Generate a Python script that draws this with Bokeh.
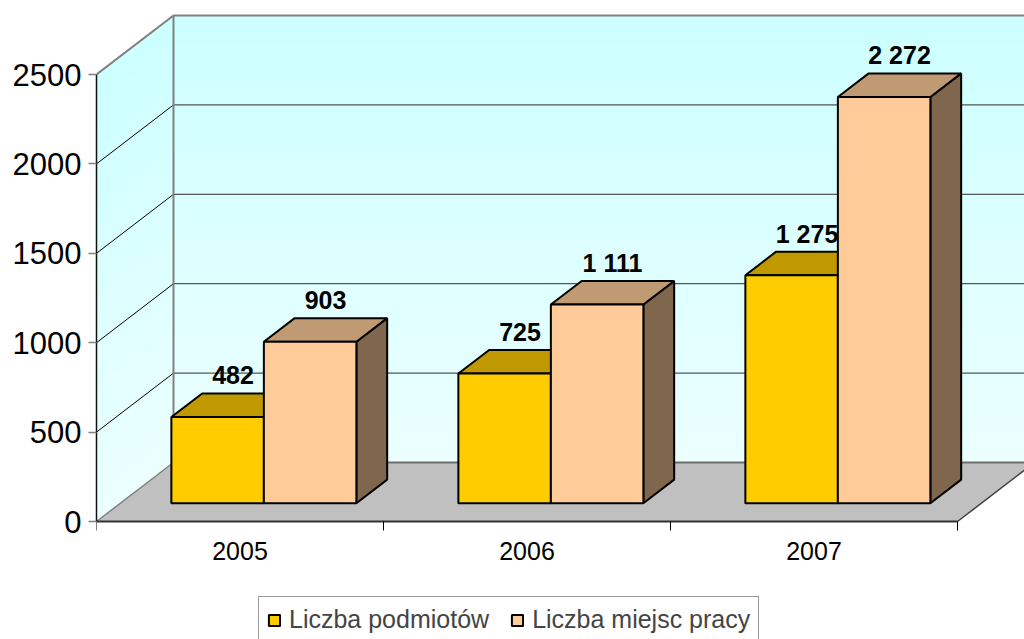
from bokeh.plotting import figure
from bokeh.models import Range1d, FixedTicker, Legend, LegendItem
from bokeh.core.properties import value
from bokeh.embed import file_html
from bokeh.resources import INLINE

# ---------------- data ----------------
years = ["2005", "2006", "2007"]
podmioty = [482, 725, 1275]          # Liczba podmiotów
miejsca = [903, 1111, 2272]          # Liczba miejsc pracy
series_names = ["Liczba podmiotów", "Liczba miejsc pracy"]
series_values = [podmioty, miejsca]
y_ticks = [0, 500, 1000, 1500, 2000, 2500]

# ---------------- style ----------------
FONT = "Liberation Sans"
front_colors = ["#FFCC00", "#FFCC99"]
top_colors = ["#C09900", "#C09A73"]
side_colors = ["#806600", "#80664D"]

W, H = 1024, 639
LEFT = 96
PX_Y = 447.0 / 2500.0      # pixels per value unit
CAT_PX = 287.0             # pixels per category
ZERO_SCREEN = 521.0
x_end = (W - LEFT) / CAT_PX
y_end = ZERO_SCREEN / PX_Y
y_start = -(H - ZERO_SCREEN) / PX_Y

DX = 77.0 / CAT_PX         # full depth offset (x, category units)
DY = 59.0 / PX_Y           # full depth offset (y, value units)
F0, F1 = 0.31, 0.71        # bar front/back depth fractions
BW = 92.5 / CAT_PX         # bar width
GAP = (1 - 2 * BW) / 2
y_max = y_ticks[-1]
ncat = len(years)
RIGHT_EXT = ncat + DX + 0.3
TXT_SHIFT = 9 / PX_Y       # compensation for text baseline rendering

p = figure(width=W, height=H, x_range=Range1d(0, x_end), y_range=Range1d(y_start, y_end),
           output_backend="svg", toolbar_location=None,
           min_border_left=LEFT, min_border_right=0, min_border_top=0, min_border_bottom=0,
           x_axis_location=None, y_axis_location="left")
p.grid.visible = False
p.outline_line_color = None
p.background_fill_color = "white"
p.border_fill_color = "white"

ax = p.yaxis[0]
ax.ticker = FixedTicker(ticks=y_ticks, minor_ticks=[])
ax.bounds = (0, y_max)
ax.axis_line_color = "#111111"
ax.axis_line_width = 1.5
ax.major_tick_out = 8
ax.major_tick_in = 0
ax.minor_tick_out = 0
ax.minor_tick_in = 0
ax.major_tick_line_color = "#808080"
ax.major_tick_line_width = 1.5
ax.major_label_text_font = FONT
ax.major_label_text_font_size = "31px"
ax.major_label_text_color = "black"
ax.major_label_standoff = 7

# ---------------- walls (gradient bands) ----------------
nb = 30
top_rgb = (204, 255, 255)
bot_rgb = (236, 255, 255)
bxs, bys, sxs, sys_, cols = [], [], [], [], []
for k in range(nb):
    v0 = y_max * k / nb
    v1 = y_max * (k + 1) / nb
    t = (k + 0.5) / nb
    c = tuple(int(round(bot_rgb[j] + (top_rgb[j] - bot_rgb[j]) * t)) for j in range(3))
    col = "#%02X%02X%02X" % c
    cols.append(col)
    bxs.append([DX, RIGHT_EXT, RIGHT_EXT, DX])
    bys.append([DY + v0, DY + v0, DY + v1, DY + v1])
    sxs.append([0, DX, DX, 0])
    sys_.append([v0, v0 + DY, v1 + DY, v1])
p.patches(bxs, bys, fill_color=cols, line_color=cols, line_width=1)
p.patches(sxs, sys_, fill_color=cols, line_color=cols, line_width=1)

# gridlines
inner = y_ticks[1:-1]
p.segment(x0=[0] * len(inner), y0=inner, x1=[DX] * len(inner), y1=[v + DY for v in inner],
          line_color="black", line_width=1)
p.segment(x0=[DX] * len(inner), y0=[v + DY for v in inner], x1=[RIGHT_EXT] * len(inner),
          y1=[v + DY for v in inner], line_color="#555555", line_width=1.2)
# wall edges
p.segment(x0=[0, DX, DX], y0=[y_max, y_max + DY, DY], x1=[DX, RIGHT_EXT, DX],
          y1=[y_max + DY, y_max + DY, y_max + DY], line_color="#808080", line_width=2)

# ---------------- floor ----------------
p.patch([0, ncat, ncat + DX, DX], [0, 0, DY, DY], fill_color="#C0C0C0", line_color=None)
p.segment(x0=[0], y0=[0], x1=[DX], y1=[DY], line_color="#808080", line_width=1.5)
p.segment(x0=[DX], y0=[DY], x1=[RIGHT_EXT], y1=[DY], line_color="#6E6E6E", line_width=2)
p.segment(x0=[ncat], y0=[0], x1=[ncat + DX], y1=[DY], line_color="#404040", line_width=1.5)
p.segment(x0=[0], y0=[0], x1=[ncat], y1=[0], line_color="#333333", line_width=2)

# x ticks and category labels
bounds = list(range(ncat + 1))
p.segment(x0=bounds, y0=[0] * len(bounds), x1=bounds, y1=[-9 / PX_Y] * len(bounds),
          line_color="black", line_width=1)
p.text(x=[i + 0.5 for i in range(ncat)], y=[-38 / PX_Y + TXT_SHIFT] * ncat, text=years,
       text_font=value(FONT), text_font_size="25px", text_align="center",
       text_baseline="alphabetic", text_color="black")

# ---------------- bars ----------------
ddx = (F1 - F0) * DX
ddy = (F1 - F0) * DY
yb = F0 * DY
front_renderers = []
for s, vals in enumerate(series_values):
    fx, fy, tx, ty, sx, sy = [], [], [], [], [], []
    lx, ly, lt = [], [], []
    for i, v in enumerate(vals):
        x0 = i + GAP + s * BW + F0 * DX
        fx.append([x0, x0 + BW, x0 + BW, x0])
        fy.append([yb, yb, yb + v, yb + v])
        tx.append([x0, x0 + BW, x0 + BW + ddx, x0 + ddx])
        ty.append([yb + v, yb + v, yb + v + ddy, yb + v + ddy])
        sx.append([x0 + BW, x0 + BW + ddx, x0 + BW + ddx, x0 + BW])
        sy.append([yb, yb + ddy, yb + v + ddy, yb + v])
        lx.append(x0 + BW / 2 + ddx / 2)
        ly.append(yb + v + ddy + 9 / PX_Y + TXT_SHIFT)
        lt.append(f"{v:,}".replace(",", " "))
    p.patches(sx, sy, fill_color=side_colors[s], line_color="black", line_width=2)
    p.patches(tx, ty, fill_color=top_colors[s], line_color="black", line_width=2)
    r = p.patches(fx, fy, fill_color=front_colors[s], line_color="black", line_width=2)
    front_renderers.append(r)
    p.text(x=lx, y=ly, text=lt, text_font=value(FONT), text_font_size="25px",
           text_font_style="bold", text_align="center", text_baseline="alphabetic",
           text_color="black")

# ---------------- legend ----------------
legend = Legend(items=[LegendItem(label=series_names[s], renderers=[front_renderers[s]])
                       for s in range(len(series_names))],
                location=(162, -4), orientation="horizontal",
                label_text_font=FONT, label_text_font_size="25px",
                glyph_width=14, glyph_height=14, label_standoff=8, spacing=21,
                padding=8, margin=0, border_line_color="#333333", border_line_width=1,
                background_fill_color="white", background_fill_alpha=1.0)
p.add_layout(legend)

open("out.html", "w").write(file_html(p, INLINE))
